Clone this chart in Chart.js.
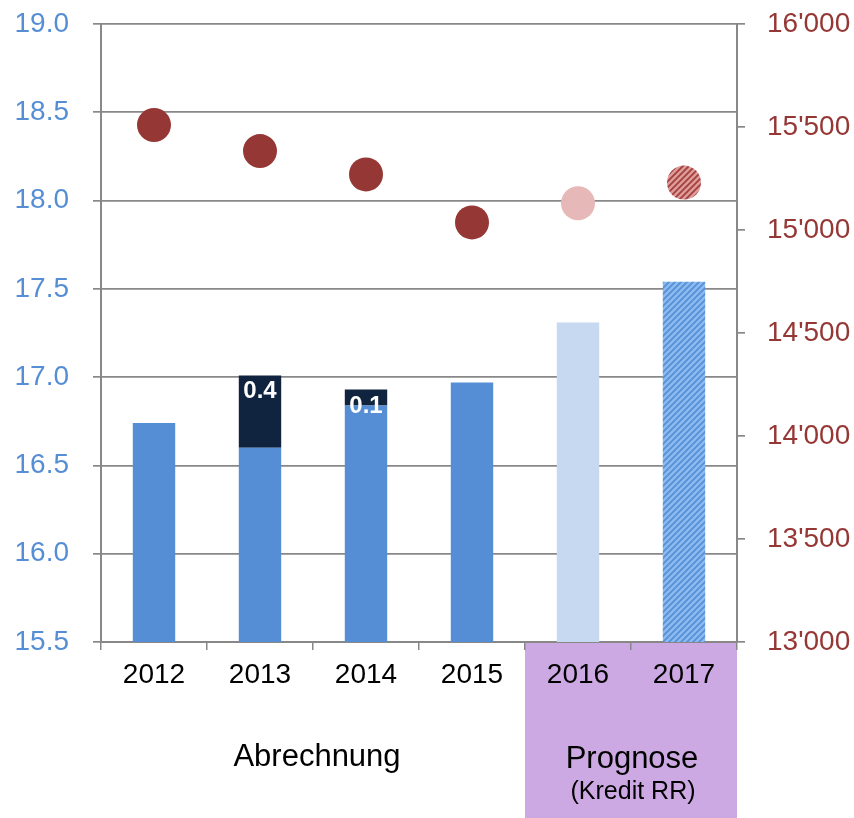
<!DOCTYPE html>
<html>
<head>
<meta charset="utf-8">
<script src="https://cdn.jsdelivr.net/npm/chart.js@4.4.1/dist/chart.umd.min.js"></script>
<style>
  html, body { margin: 0; padding: 0; background: #ffffff; }
  #wrap { width: 854px; height: 818px; position: relative; }
</style>
</head>
<body>
<div id="wrap"><canvas id="c" width="854" height="818"></canvas></div>
<script>
// ---- data ----
const years = ['2012', '2013', '2014', '2015', '2016', '2017'];
const baseValues = [16.74, 16.60, 16.84, 16.97, 17.31, 17.54];
const extraValues = [null, 0.41, 0.09, null, null, null];
const dotValues = [15510, 15383, 15270, 15037, 15130, 15230];
const leftMin = 15.5, leftMax = 19.0, leftStep = 0.5;
const rightMin = 13000, rightMax = 16000, rightStep = 500;
const groupLabels = ['Abrechnung', 'Prognose'];
const groupSubLabels = ['', '(Kredit RR)'];
const groupFirst = [0, 4];
const groupLast = [3, 5];

// ---- styles ----
const FONT = '"Liberation Sans", Arial, sans-serif';
const BLUE = '#558ED5', LIGHTBLUE = '#C6D9F1', NAVY = '#10243F';
const RED = '#953735', PINK = '#E6B9B8', PURPLE = '#CDA9E3';
const GRID = '#888888';

function hatch(base, stripe, size, width) {
  const c = document.createElement('canvas');
  c.width = size; c.height = size;
  const g = c.getContext('2d');
  g.fillStyle = base; g.fillRect(0, 0, size, size);
  g.strokeStyle = stripe; g.lineWidth = width;
  g.beginPath();
  g.moveTo(-2, 2); g.lineTo(2, -2);
  g.moveTo(0, size); g.lineTo(size, 0);
  g.moveTo(size - 2, size + 2); g.lineTo(size + 2, size - 2);
  g.stroke();
  return g.createPattern(c, 'repeat');
}
const blueHatch = hatch('#5690D6', '#8DBBF0', 6, 2.4);
const redHatch = hatch('#A3413F', '#DE9C9A', 6, 2.4);

const barColors = [BLUE, BLUE, BLUE, BLUE, LIGHTBLUE, blueHatch];
const dotColors = [RED, RED, RED, RED, PINK, redHatch];

const fmtRight = v => String(v).replace(/\B(?=(\d{3})+$)/g, "'");

const annot = {
  id: 'annot',
  beforeDraw(chart) {
    const { ctx, chartArea, scales: { x } } = chart;
    const half = (x.getPixelForValue(1) - x.getPixelForValue(0)) / 2;
    const left = x.getPixelForValue(groupFirst[1]) - half;
    ctx.save();
    ctx.fillStyle = PURPLE;
    ctx.fillRect(left, chartArea.bottom, chartArea.right - left, chart.height - chartArea.bottom);
    ctx.restore();
  },
  afterDatasetsDraw(chart) {
    const { ctx } = chart;
    const meta = chart.getDatasetMeta(1);
    ctx.save();
    ctx.fillStyle = '#ffffff';
    ctx.font = 'bold 24px ' + FONT;
    ctx.textAlign = 'center';
    ctx.textBaseline = 'alphabetic';
    meta.data.forEach((el, i) => {
      const v = extraValues[i];
      if (v === null || v === undefined) return;
      ctx.fillText(v.toFixed(1), el.x, el.y + 23);
    });
    ctx.restore();
  },
  afterDraw(chart) {
    const { ctx, scales: { x } } = chart;
    ctx.save();
    ctx.fillStyle = '#000000';
    ctx.textAlign = 'center';
    ctx.textBaseline = 'alphabetic';
    const half = (x.getPixelForValue(1) - x.getPixelForValue(0)) / 2;
    for (let g = 0; g < groupLabels.length; g++) {
      const l = x.getPixelForValue(groupFirst[g]) - half;
      const r = x.getPixelForValue(groupLast[g]) + half;
      const cx = (l + r) / 2 + (g === 0 ? 4 : 1);
      ctx.font = '31px ' + FONT;
      ctx.fillText(groupLabels[g], cx, g === 0 ? 766 : 768);
      if (groupSubLabels[g]) {
        ctx.font = '25px ' + FONT;
        ctx.fillText(groupSubLabels[g], cx + 1, 799);
      }
    }
    ctx.restore();
  }
};

new Chart(document.getElementById('c'), {
  type: 'bar',
  data: {
    labels: years,
    datasets: [
      {
        label: 'Basis',
        data: baseValues,
        backgroundColor: barColors,
        yAxisID: 'y',
        stack: 's',
        barPercentage: 0.4,
        categoryPercentage: 1.0,
        order: 2
      },
      {
        label: 'Zusatz',
        data: extraValues,
        backgroundColor: NAVY,
        yAxisID: 'y',
        stack: 's',
        barPercentage: 0.4,
        categoryPercentage: 1.0,
        order: 2
      },
      {
        type: 'line',
        label: 'Punkte',
        data: dotValues,
        yAxisID: 'y2',
        showLine: false,
        pointRadius: 17,
        pointHoverRadius: 17,
        pointBorderWidth: 0,
        pointBackgroundColor: dotColors,
        pointBorderColor: dotColors,
        order: 1
      }
    ]
  },
  options: {
    responsive: false,
    animation: false,
    events: [],
    layout: { padding: { top: 24, left: 0, right: 0, bottom: 0 } },
    plugins: { legend: { display: false }, tooltip: { enabled: false } },
    scales: {
      x: {
        stacked: true,
        offset: true,
        grid: { display: true, offset: true, drawOnChartArea: false, drawTicks: true, tickLength: 8, color: GRID, lineWidth: 1.5 },
        border: { display: true, color: GRID, width: 2 },
        ticks: { color: '#000000', font: { family: FONT, size: 28 }, padding: 8, maxRotation: 0 },
        afterFit: s => { s.height = 176; s.paddingLeft = 0; s.paddingRight = 0; }
      },
      y: {
        position: 'left',
        stacked: true,
        min: leftMin,
        max: leftMax,
        grid: { color: GRID, lineWidth: 1.7, drawTicks: true, tickLength: 8 },
        border: { display: true, color: GRID, width: 2 },
        ticks: {
          stepSize: leftStep,
          color: BLUE,
          font: { family: FONT, size: 28 },
          padding: 24,
          callback: v => Number(v).toFixed(1)
        },
        afterFit: s => { s.width = 101; s.paddingTop = 0; s.paddingBottom = 0; }
      },
      y2: {
        position: 'right',
        min: rightMin,
        max: rightMax,
        grid: { drawOnChartArea: false, drawTicks: true, tickLength: 8, color: GRID, lineWidth: 1.7 },
        border: { display: true, color: GRID, width: 2 },
        ticks: {
          stepSize: rightStep,
          color: RED,
          font: { family: FONT, size: 28 },
          padding: 22,
          callback: v => fmtRight(v)
        },
        afterFit: s => { s.width = 117; s.paddingTop = 0; s.paddingBottom = 0; }
      }
    }
  },
  plugins: [annot]
});
</script>
</body>
</html>
